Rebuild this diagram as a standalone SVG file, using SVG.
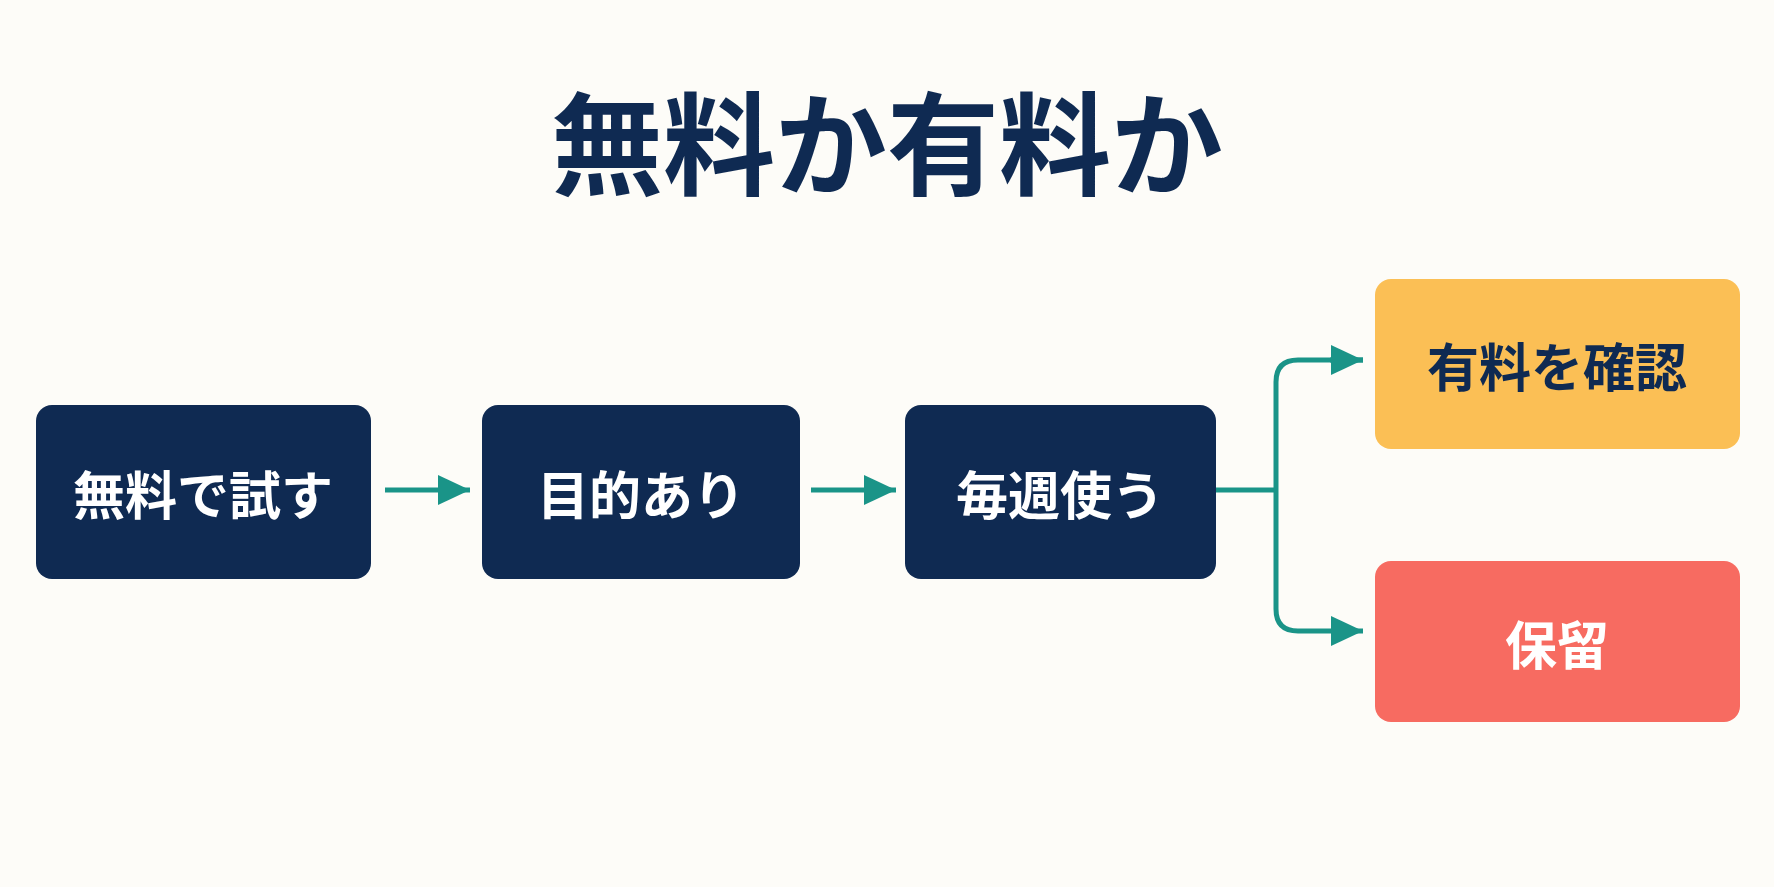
<svg xmlns="http://www.w3.org/2000/svg" width="1774" height="887" viewBox="0 0 1774 887">
<style>
.t{font-family:"Noto Sans CJK JP","Noto Sans CJK SC",sans-serif;font-weight:700;text-anchor:middle;dominant-baseline:central}
.w{fill:#ffffff;font-size:52px}
.d{fill:#0f2a52;font-size:52px}
.c{fill:none;stroke:#1a9488;stroke-width:5}
</style>
<defs><marker id="a" markerWidth="10" markerHeight="10" refX="9" refY="5" orient="auto" markerUnits="userSpaceOnUse" viewBox="0 0 10 10"><path d="M0,0 L10,5 L0,10 Z" fill="#1a9488"/></marker>
<marker id="b" viewBox="0 0 32 30" refX="32" refY="15" markerWidth="32" markerHeight="30" orient="auto" markerUnits="userSpaceOnUse"><path d="M0,0 L32,15 L0,30 Z" fill="#1a9488"/></marker></defs>
<rect width="1774" height="887" fill="#fdfcf8"/>
<text class="t" x="887" y="138" font-size="112" fill="#0f2a52">無料か有料か</text>
<g id="connectors">
<path class="c" d="M385,490 H470" marker-end="url(#b)"/>
<path class="c" d="M811,490 H896" marker-end="url(#b)"/>
<path class="c" d="M1216,490 H1276"/>
<path class="c" d="M1363,360 H1298 Q1276,360 1276,382 V609 Q1276,631 1298,631 H1363" marker-end="url(#b)"/>
<path class="c" d="M1330,360 H1363" marker-end="url(#b)"/>
</g>
<g id="n1"><rect x="36" y="405" width="335" height="174" rx="16" fill="#0f2a52"/><text class="t w" x="203" y="492">無料で試す</text></g>
<g id="n2"><rect x="482" y="405" width="318" height="174" rx="16" fill="#0f2a52"/><text class="t w" x="641" y="492">目的あり</text></g>
<g id="n3"><rect x="905" y="405" width="311" height="174" rx="16" fill="#0f2a52"/><text class="t w" x="1060" y="492">毎週使う</text></g>
<g id="n4"><rect x="1375" y="279" width="365" height="170" rx="16" fill="#fbbf55"/><text class="t d" x="1557" y="364">有料を確認</text></g>
<g id="n5"><rect x="1375" y="561" width="365" height="161" rx="16" fill="#f76b61"/><text class="t w" x="1557" y="642">保留</text></g>
</svg>
